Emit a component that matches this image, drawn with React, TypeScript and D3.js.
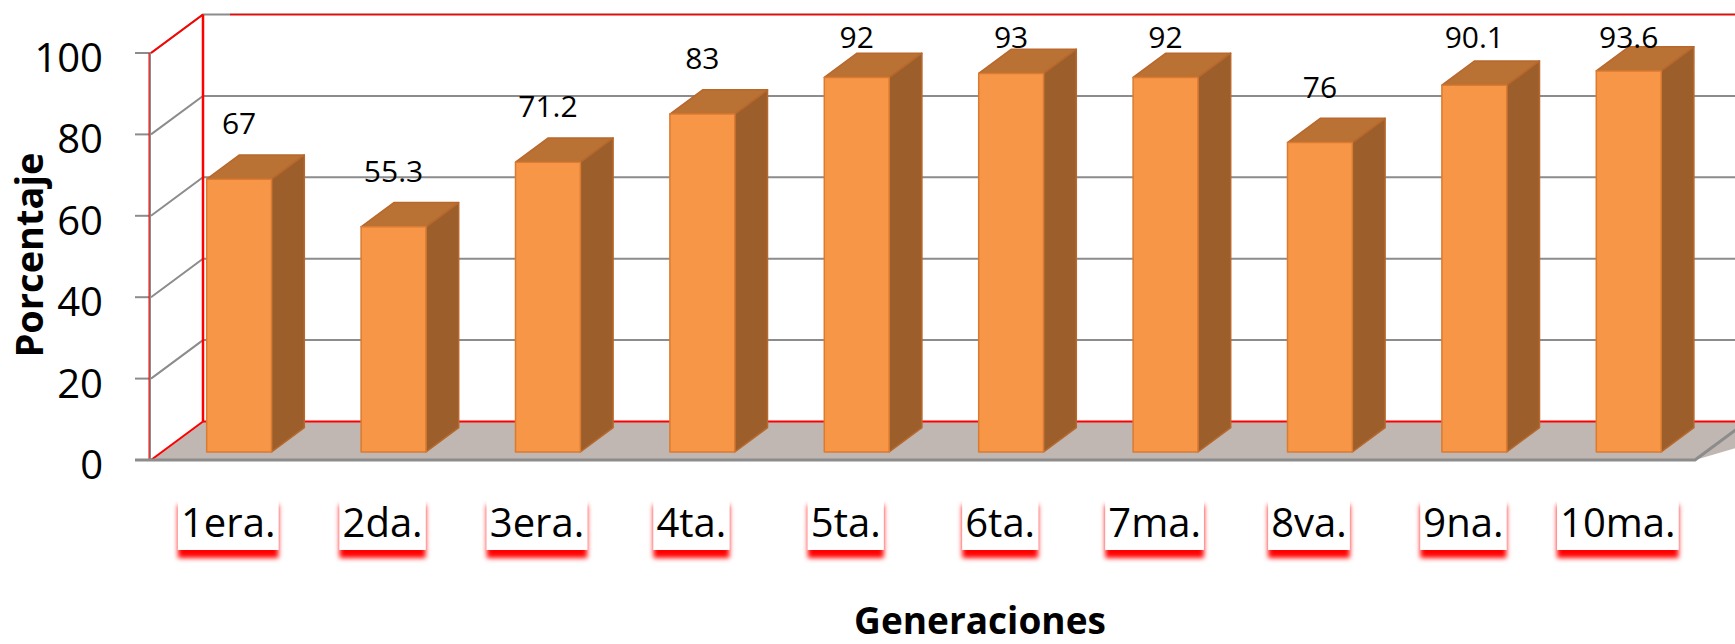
import { useEffect, useRef } from 'react';
import * as d3 from 'd3';

const categories = ['1era.', '2da.', '3era.', '4ta.', '5ta.', '6ta.', '7ma.', '8va.', '9na.', '10ma.'];
const values = [67, 55.3, 71.2, 83, 92, 93, 92, 76, 90.1, 93.6];
const yTicks = [0, 20, 40, 60, 80, 100];

const W = 1735;
const H = 644;
const FONT = '"Open Sans", "DejaVu Sans", sans-serif';

export default function App() {
  const ref = useRef<SVGSVGElement | null>(null);

  useEffect(() => {
    const svg = d3.select(ref.current);
    svg.selectAll('*').remove();

    // plot box (front plane) and depth offset of the 3D walls
    const left = 151;
    const right = 1695;
    const DX = 52;
    const DY = 38.5;

    const y = d3.scaleLinear().domain([0, 100]).range([460, 53]);
    const x = d3.scaleBand<string>()
      .domain(categories)
      .range([left, right])
      .paddingInner(0.58)
      .paddingOuter(0.29);

    const P = (px: number, v: number, z: number): [number, number] => [px + z * DX, y(v) - z * DY];
    const poly = (pts: [number, number][]) => 'M' + pts.map(p => p.join(',')).join('L') + 'Z';

    const defs = svg.append('defs');
    const f = defs.append('filter').attr('id', 'redShadow')
      .attr('x', '-20%').attr('y', '-20%').attr('width', '140%').attr('height', '160%');
    f.append('feDropShadow')
      .attr('dx', 0).attr('dy', 8).attr('stdDeviation', 2.5)
      .attr('flood-color', '#ff0000').attr('flood-opacity', 1);

    // floor
    svg.append('path')
      .attr('d', poly([P(left, 0, 0), P(right + 80, 0, 0), P(right + 80, 0, 1), P(left, 0, 1)]))
      .attr('fill', '#c0b6b2');
    svg.append('path')
      .attr('d', poly([P(right, 0, 0), P(right + 80, 0, 0), P(right + 80, 0, 1)]))
      .attr('fill', '#fff');

    // gridlines on side wall and back wall
    const grid = svg.append('g').attr('stroke', '#8c8c8c').attr('stroke-width', 2).attr('fill', 'none');
    yTicks.filter(t => t > 0).forEach(t => {
      const a = P(left, t, 0);
      const b = P(left, t, 1);
      grid.append('path').attr('d', `M${a[0]},${a[1]}L${b[0]},${b[1]}L${W + 5},${b[1]}`);
      grid.append('line')
        .attr('x1', left - 16).attr('x2', left).attr('y1', a[1]).attr('y2', a[1]);
    });

    // wall edges (red)
    const topBack = P(left, 100, 1);
    const botBack = P(left, 0, 1);
    svg.append('line')
      .attr('x1', left - 1).attr('x2', left - 1).attr('y1', y(100)).attr('y2', y(0))
      .attr('stroke', '#8c8c8c').attr('stroke-width', 2);
    const red = svg.append('g').attr('stroke', '#ff0000').attr('stroke-width', 2).attr('fill', 'none');
    red.append('line').attr('x1', left - 2).attr('x2', left - 2).attr('y1', y(100)).attr('y2', y(0)).attr('stroke-width', 1);
    red.append('line').attr('x1', left).attr('y1', y(100)).attr('x2', topBack[0]).attr('y2', topBack[1]);
    red.append('line').attr('x1', topBack[0]).attr('y1', topBack[1]).attr('x2', botBack[0]).attr('y2', botBack[1]).attr('stroke-width', 2.5);
    red.append('line').attr('x1', left).attr('y1', y(0)).attr('x2', botBack[0]).attr('y2', botBack[1]);
    red.append('line').attr('x1', botBack[0]).attr('y1', botBack[1]).attr('x2', W + 5).attr('y2', botBack[1]);
    red.append('line').attr('x1', topBack[0] + 27).attr('y1', topBack[1]).attr('x2', W + 5).attr('y2', topBack[1]).attr('stroke-width', 1.5);

    // floor front edge
    const fr = P(right, 0, 0);
    const frb = P(right, 0, 1);
    svg.append('path')
      .attr('d', `M${left - 16},${y(0)}L${fr[0]},${fr[1]}L${frb[0]},${frb[1]}`)
      .attr('stroke', '#8c8c8c').attr('stroke-width', 3).attr('fill', 'none');

    // bars
    const z0 = 0.21;
    const z1 = 0.84;
    const w = x.bandwidth();
    const bars = svg.append('g').attr('stroke-width', 1.5).attr('stroke-linejoin', 'round');
    categories.forEach((c, i) => {
      const x0 = x(c) as number;
      const v = values[i];
      bars.append('path')
        .attr('d', poly([P(x0 + w, 0, z0), P(x0 + w, 0, z1), P(x0 + w, v, z1), P(x0 + w, v, z0)]))
        .attr('fill', '#9c5f2b').attr('stroke', '#b8682c');
      bars.append('path')
        .attr('d', poly([P(x0, v, z0), P(x0 + w, v, z0), P(x0 + w, v, z1), P(x0, v, z1)]))
        .attr('fill', '#ba7134').attr('stroke', '#b8682c');
      bars.append('path')
        .attr('d', poly([P(x0, 0, z0), P(x0 + w, 0, z0), P(x0 + w, v, z0), P(x0, v, z0)]))
        .attr('fill', '#f79646').attr('stroke', '#d97b33');
    });

    // value labels
    svg.append('g')
      .attr('font-family', FONT).attr('font-size', 30).attr('text-anchor', 'middle').attr('fill', '#000')
      .selectAll('text').data(values).join('text')
      .attr('x', (d, i) => (x(categories[i]) as number) + w / 2 + z0 * DX)
      .attr('y', d => Math.max(48, P(0, d, z0)[1] - 45))
      .text(d => String(d));

    // y tick labels
    svg.append('g')
      .attr('font-family', FONT).attr('font-size', 40).attr('text-anchor', 'end').attr('fill', '#000')
      .selectAll('text').data(yTicks).join('text')
      .attr('x', 103)
      .attr('y', d => y(d) + 19)
      .text(d => String(d));

    // category labels with red shadow boxes
    const cat = svg.append('g').attr('font-family', FONT).attr('font-size', 40);
    categories.forEach(c => {
      const cx = (x(c) as number) + w / 2;
      const g = cat.append('g');
      const rect = g.append('rect').attr('fill', '#fff').attr('filter', 'url(#redShadow)');
      const t = g.append('text')
        .attr('x', cx).attr('y', 537).attr('text-anchor', 'middle').attr('fill', '#000')
        .text(c);
      const tw = (t.node() as SVGTextElement).getComputedTextLength();
      rect.attr('x', cx - tw / 2 - 3).attr('width', tw + 6).attr('y', 497).attr('height', 53);
    });

    // axis titles
    svg.append('text')
      .attr('x', 980).attr('y', 634).attr('text-anchor', 'middle')
      .attr('font-family', FONT).attr('font-size', 37).attr('font-weight', 'bold')
      .text('Generaciones');
    svg.append('text')
      .attr('transform', 'translate(43,255) rotate(-90)')
      .attr('text-anchor', 'middle')
      .attr('font-family', FONT).attr('font-size', 38).attr('font-weight', 'bold')
      .text('Porcentaje');
  }, []);

  return (
    <svg
      ref={ref}
      width={W}
      height={H}
      style={{ position: 'absolute', left: 0, top: 0, display: 'block', background: '#fff' }}
    />
  );
}
